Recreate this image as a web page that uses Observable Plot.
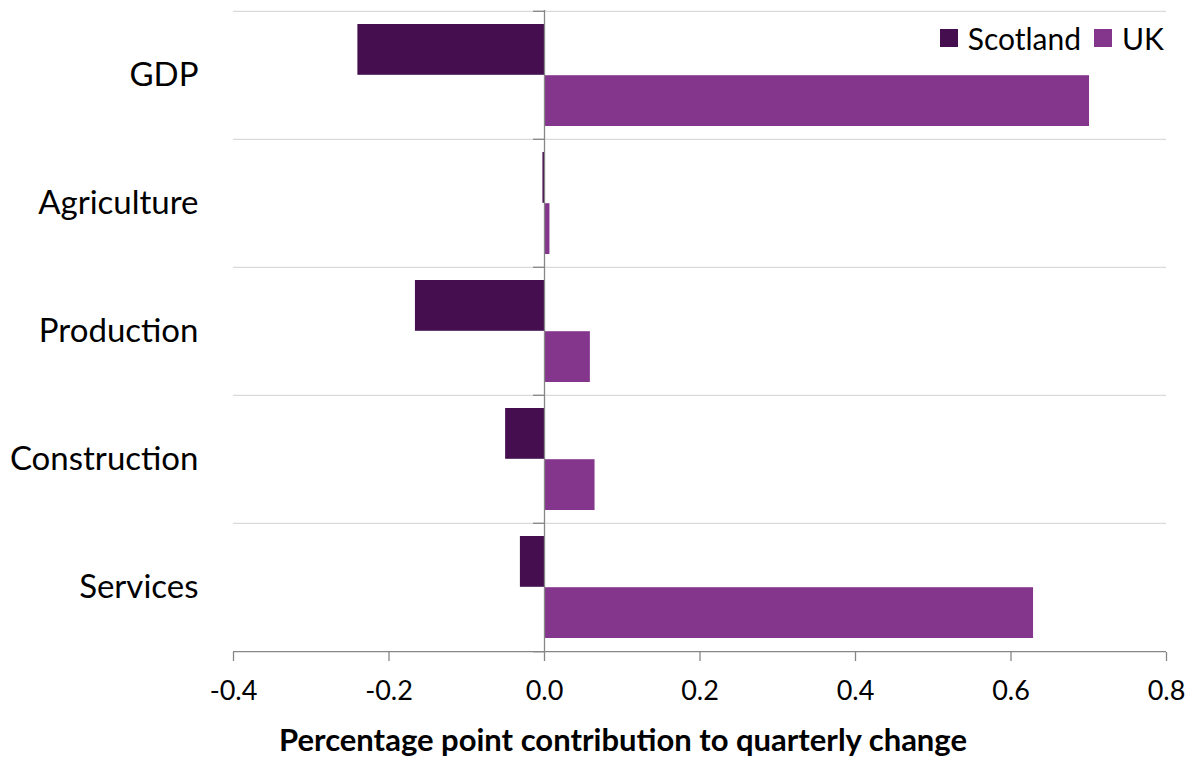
<!DOCTYPE html>
<html>
<head>
<meta charset="utf-8">
<script src="https://cdn.jsdelivr.net/npm/d3@7"></script>
<script src="https://cdn.jsdelivr.net/npm/@observablehq/plot@0.6"></script>
<style>
  body { margin: 0; background: #fff; font-family: Lato, sans-serif; }
  #wrap { position: relative; width: 1195px; height: 760px; }
  #legend { position: absolute; top: 20px; right: 31px; display: flex; align-items: center; font-size: 30px; line-height: 1.2; color: #000; }
  #legend .item { display: flex; align-items: center; margin-left: 13px; }
  #legend .sw { width: 18px; height: 18px; margin-right: 10px; }
  #caption { position: absolute; top: 724px; left: 623px; transform: translateX(-50%); white-space: nowrap;
             font-size: 31px; line-height: 1; font-weight: bold; color: #000; }
</style>
</head>
<body>
<div id="wrap">
  <div id="legend"></div>
  <div id="caption"></div>
</div>
<script>
// Contribution to quarterly GDP change by sector, percentage points
const sectors = ["GDP", "Agriculture", "Production", "Construction", "Services"];
const scotland = [-0.240, -0.002, -0.166, -0.050, -0.031];
const uk = [0.701, 0.007, 0.059, 0.065, 0.629];
const seriesNames = ["Scotland", "UK"];
const seriesColors = ["#440e4f", "#84368d"];
const xTicks = [-0.4, -0.2, 0.0, 0.2, 0.4, 0.6, 0.8];
const xLabel = "Percentage point contribution to quarterly change";

const rows = sectors.flatMap((s, i) => [
  {sector: s, series: "Scotland", value: scotland[i]},
  {sector: s, series: "UK", value: uk[i]}
]);

const width = 1195, height = 760;
const marginTop = 10, marginBottom = 108, marginLeft = 233, marginRight = 29;
const band = (height - marginTop - marginBottom) / sectors.length;
const half = band / 2;
const outer = 13;

const chart = Plot.plot({
  width, height, marginTop, marginBottom, marginLeft, marginRight,
  style: {fontFamily: "Lato, sans-serif", background: "#fff", color: "#000"},
  x: {domain: [-0.4, 0.8]},
  y: {domain: sectors, padding: 0},
  color: {domain: seriesNames, range: seriesColors},
  marks: [
    // light separators at the top of each sector band
    Plot.ruleY(sectors, {y: d => d, dy: -half, stroke: "#d9d9d9", strokeWidth: 1.3}),
    // Scotland in the upper half of each band, UK in the lower half
    Plot.barX(rows.filter(d => d.series === "Scotland"),
      {x: "value", y: "sector", fill: "series", insetTop: outer, insetBottom: half}),
    Plot.barX(rows.filter(d => d.series === "UK"),
      {x: "value", y: "sector", fill: "series", insetTop: half, insetBottom: outer}),
    // zero line acting as the category axis, with small tick marks
    Plot.ruleX([0], {stroke: "#868686", strokeWidth: 1.3}),
    Plot.ruleY(sectors, {y: d => d, x1: 0, x2: 0, insetLeft: -11, dy: -half, stroke: "#868686", strokeWidth: 1.3}),
    Plot.ruleY(sectors.slice(-1), {y: d => d, x1: 0, x2: 0, insetLeft: -11, dy: half, stroke: "#868686", strokeWidth: 1.3}),
    // value axis line along the bottom
    Plot.ruleY(sectors.slice(-1), {y: d => d, dy: half, stroke: "#868686", strokeWidth: 1.3}),
    Plot.axisX({ticks: xTicks, tickFormat: d => d.toFixed(1), tickSize: 9, tickPadding: 19,
                fontSize: 27, stroke: "#868686", strokeWidth: 1.3, label: null}),
    Plot.axisY({tickSize: 0, tickPadding: 35, fontSize: 33, label: null})
  ]
});
chart.querySelectorAll("text").forEach(t => t.setAttribute("fill", "#000"));
document.getElementById("wrap").prepend(chart);

const legend = document.getElementById("legend");
seriesNames.forEach((name, i) => {
  const item = document.createElement("div");
  item.className = "item";
  const sw = document.createElement("span");
  sw.className = "sw";
  sw.style.background = seriesColors[i];
  item.appendChild(sw);
  item.appendChild(document.createTextNode(name));
  legend.appendChild(item);
});
document.getElementById("caption").textContent = xLabel;
</script>
</body>
</html>
